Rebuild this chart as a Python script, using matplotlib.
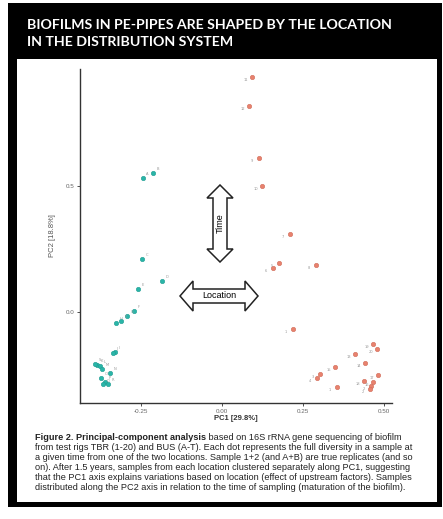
import matplotlib
matplotlib.use("Agg")
import matplotlib.pyplot as plt
import matplotlib.patches as mpatches

W, H = 443, 519

# PCA scores (TBR = red, BUS = teal)
tbr_pc1 = [0.093, 0.083, 0.114, 0.123, 0.210, 0.176, 0.157, 0.290, 0.219, 0.466, 0.478,
           0.410, 0.441, 0.349, 0.302, 0.293, 0.481, 0.438, 0.466, 0.460, 0.355, 0.457]
tbr_pc2 = [0.933, 0.817, 0.611, 0.500, 0.310, 0.194, 0.175, 0.187, -0.067, -0.127, -0.147,
           -0.167, -0.202, -0.218, -0.246, -0.262, -0.250, -0.274, -0.278, -0.294, -0.298, -0.306]
tbr_labels = ["11", "12", "9", "10", "7", "5", "6", "8", "1", "19", "20",
              "13", "14", "15", "3", "4", "17", "18", "16", "2", "1", "2"]

bus_pc1 = [-0.244, -0.213, -0.247, -0.185, -0.259, -0.272, -0.293, -0.327, -0.330, -0.336,
           -0.386, -0.377, -0.370, -0.346, -0.373, -0.361, -0.367, -0.352, -0.392, -0.312]
bus_pc2 = [0.532, 0.552, 0.210, 0.123, 0.091, 0.004, -0.016, -0.044, -0.159, -0.163,
           -0.210, -0.214, -0.226, -0.242, -0.262, -0.278, -0.286, -0.286, -0.206, -0.036]
bus_labels = ["A", "B", "C", "D", "E", "F", "G", "H", "I", "J",
              "K", "L", "M", "N", "O", "P", "Q", "R", "S", "T"]

x_ticks = [-0.25, 0.0, 0.25, 0.5]
x_ticklabels = ["-0.25", "0.00", "0.25", "0.50"]
y_ticks = [0.0, 0.5]
y_ticklabels = ["0.0", "0.5"]

title_lines = ["BIOFILMS IN PE-PIPES ARE SHAPED BY THE LOCATION",
               "IN THE DISTRIBUTION SYSTEM"]
caption_bold = "Figure 2. Principal-component analysis"
caption_lines = [
    " based on 16S rRNA gene sequencing of biofilm",
    "from test rigs TBR (1-20) and BUS (A-T). Each dot represents the full diversity in a sample at",
    "a given time from one of the two locations. Sample 1+2 (and A+B) are true replicates (and so",
    "on). After 1.5 years, samples from each location clustered separately along PC1, suggesting",
    "that the PC1 axis explains variations based on location (effect of upstream factors). Samples",
    "distributed along the PC2 axis in relation to the time of sampling (maturation of the biofilm).",
]


def fx(x):
    return x / W


def fy(y):
    return 1 - y / H


def double_arrow(fig, cx, cy, length, head_w, shaft_w, head_len, vertical=False):
    """Outline block arrow with two heads, sizes in pixels."""
    a, b, c, hl = length / 2, head_w / 2, shaft_w / 2, head_len
    pts = [(-a, 0), (-a + hl, b), (-a + hl, c), (a - hl, c), (a - hl, b), (a, 0),
           (a - hl, -b), (a - hl, -c), (-a + hl, -c), (-a + hl, -b)]
    if vertical:
        pts = [(q, p) for p, q in pts]
    xy = [(fx(cx + p), fy(cy + q)) for p, q in pts]
    fig.patches.append(mpatches.Polygon(xy, closed=True, transform=fig.transFigure,
                                        fc="white", ec="#222222", lw=1.1, zorder=5))


fig = plt.figure(figsize=(W / 100, H / 100), dpi=100)
fig.patch.set_facecolor("white")
renderer = fig.canvas.get_renderer()

# poster frame
fig.patches.append(mpatches.Rectangle((fx(8), fy(507)), fx(442 - 8), (507 - 3) / H,
                                      transform=fig.transFigure, fc="black", zorder=-10))
fig.patches.append(mpatches.Rectangle((fx(17), fy(502)), fx(437 - 17), (502 - 59) / H,
                                      transform=fig.transFigure, fc="white", zorder=-9))

# title, sized so the first line spans ~366 px like the poster
title_kw = dict(color="white", fontweight="bold", family=["Lato", "DejaVu Sans"],
                va="center", ha="left")
probe = fig.text(0, 0, title_lines[0], fontsize=12, **title_kw)
tsize = 12 * 366 / probe.get_window_extent(renderer).width
probe.remove()
for i, line in enumerate(title_lines):
    fig.text(fx(27), fy(25 + 17 * i), line, fontsize=tsize, **title_kw)

ax = fig.add_axes([fx(80), fy(403), fx(392 - 80), (403 - 69) / H])
ax.set_zorder(2)
ax.patch.set_alpha(0)
ax.set_xlim(-0.438, 0.525)
ax.set_ylim(-0.361, 0.964)
for s in ["top", "right"]:
    ax.spines[s].set_visible(False)
for s in ["left", "bottom"]:
    ax.spines[s].set_color("#333333")
    ax.spines[s].set_linewidth(1.0)
ax.set_xticks(x_ticks)
ax.set_xticklabels(x_ticklabels)
ax.set_yticks(y_ticks)
ax.set_yticklabels(y_ticklabels)
ax.tick_params(length=2, width=0.6, color="#333333", labelsize=4.5, labelcolor="#666666", pad=2)
for t in ax.get_xticklabels() + ax.get_yticklabels():
    t.set_family("Liberation Sans")

ax.scatter(bus_pc1, bus_pc2, s=10, c="#2ab5a8", edgecolors="#1f9d91", linewidths=0.4, zorder=3)
ax.scatter(tbr_pc1, tbr_pc2, s=10, c="#e8826e", edgecolors="#d06c5a", linewidths=0.4, zorder=3)
for x, y, lab in zip(bus_pc1, bus_pc2, bus_labels):
    ax.annotate(lab, (x, y), xytext=(2.5, 2), textcoords="offset points",
                fontsize=2.6, color="#999999")
for x, y, lab in zip(tbr_pc1, tbr_pc2, tbr_labels):
    ax.annotate(lab, (x, y), xytext=(-6, -3), textcoords="offset points",
                fontsize=2.6, color="#999999")

ax.set_xlabel("PC1 [29.8%]", fontsize=5.5, fontweight="bold", color="#333333",
              family="Liberation Sans", labelpad=1)
ax.set_ylabel("PC2 [18.8%]", fontsize=5.5, color="#555555", family="Liberation Sans",
              labelpad=7)

# annotation arrows
double_arrow(fig, 220, 223.5, 77, 26, 14, 13, vertical=True)
fig.text(fx(220), fy(223.5), "Time", rotation=90, fontsize=6.5, family="Liberation Sans",
         ha="center", va="center", zorder=6)
double_arrow(fig, 219, 296, 78, 30, 14, 13)
fig.text(fx(219), fy(296), "Location", fontsize=6.5, family="Liberation Sans",
         ha="center", va="center", zorder=6)

# caption
cap_kw = dict(fontsize=6.6, family="Liberation Sans", color="#222222", va="center", ha="left")
tb = fig.text(fx(35), fy(437), caption_bold, fontweight="bold", **cap_kw)
bb = tb.get_window_extent(renderer)
fig.text(bb.x1 / fig.bbox.width, fy(437), caption_lines[0], **cap_kw)
for i, line in enumerate(caption_lines[1:], start=1):
    fig.text(fx(35), fy(437 + 10 * i), line, **cap_kw)

fig.savefig("out.png", dpi=100)
